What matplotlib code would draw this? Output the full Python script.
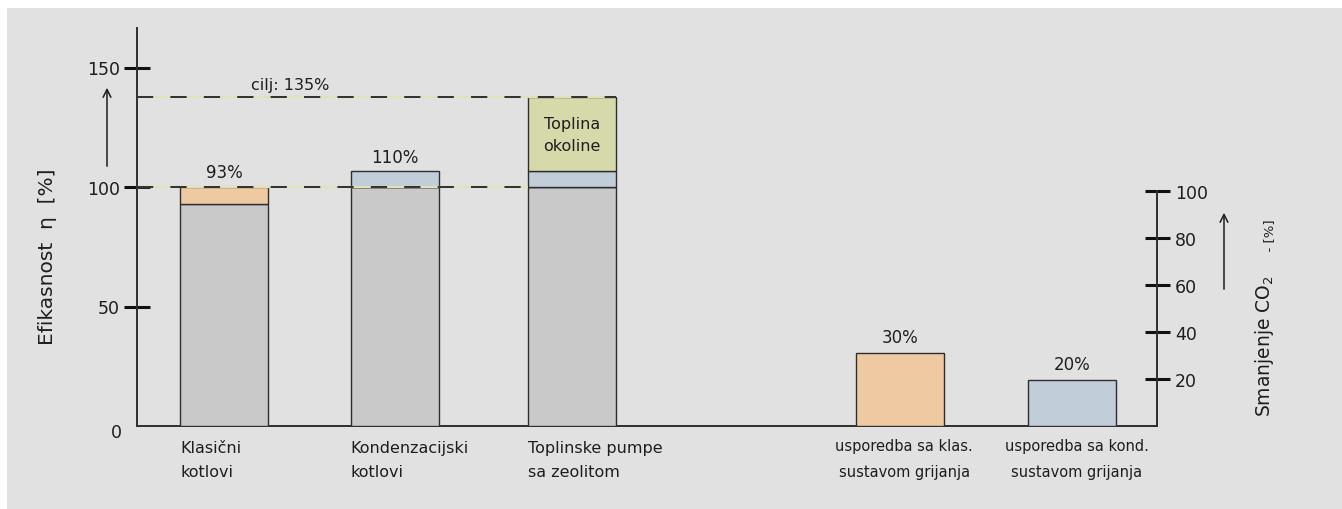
import matplotlib
matplotlib.use("Agg")
import matplotlib.pyplot as plt
from matplotlib.patches import Rectangle

# efficiency bars (left axis, %)
eff_categories = ["Klasični\nkotlovi", "Kondenzacijski\nkotlovi", "Toplinske pumpe\nsa zeolitom"]
eff_base = [93, 100, 100]
eff_loss = [7, 0, 0]
eff_condensing = [0, 6.5, 6.5]
eff_ambient = [0, 0, 31]
eff_labels = ["93%", "110%", ""]
target_value = 137.5
target_label = "cilj: 135%"
ambient_label = "Toplina\nokoline"

# CO2 reduction bars (right axis, %)
co2_categories = ["usporedba sa klas.\nsustavom grijanja", "usporedba sa kond.\nsustavom grijanja"]
co2_values = [31, 19.6]
co2_labels = ["30%", "20%"]

left_ticks = [50, 100, 150]
right_ticks = [20, 40, 60, 80, 100]

# colours
BG = "#e1e1e1"
GRAY = "#c9c9c9"
ORANGE = "#eec9a1"
BLUE = "#c1cdd9"
GREEN = "#d6daab"
EDGE = "#2e2e2e"
TXT = "#1e1e1e"

W, H = 1342, 510


def px(x, y):
    return x / W, 1 - y / H


fig = plt.figure(figsize=(W / 100, H / 100), dpi=100, facecolor="white")
fig.patches.append(Rectangle(px(7, 510), (W - 7) / W, (510 - 9) / H,
                             transform=fig.transFigure, facecolor=BG,
                             edgecolor="none", zorder=-10))

l, b = px(137, 427)
r, t = px(1157, 29)
ax = fig.add_axes([l, b, r - l, t - b])
ax.set_facecolor("none")
ax2 = ax.twinx()
ax2.set_facecolor("none")

bw = 1.0
eff_x = [0.99, 2.93, 4.94]
co2_x = [8.67, 10.63]
ax.set_xlim(0, 1020 / 88)
ax.set_ylim(0, 398 / 2.39)
ax2.set_ylim(0, 398 / 2.35)

kw = dict(width=bw, edgecolor=EDGE, linewidth=1.0, zorder=3)
ax.bar(eff_x, eff_base, color=GRAY, **kw)
b1 = [v for v in eff_base]
ax.bar(eff_x, eff_loss, bottom=b1, color=ORANGE, **kw)
b2 = [a + c for a, c in zip(b1, eff_loss)]
ax.bar([x for x, v in zip(eff_x, eff_condensing) if v],
       [v for v in eff_condensing if v],
       bottom=[bb for bb, v in zip(b2, eff_condensing) if v], color=BLUE, **kw)
b3 = [a + c for a, c in zip(b2, eff_condensing)]
ax.bar([x for x, v in zip(eff_x, eff_ambient) if v],
       [v for v in eff_ambient if v],
       bottom=[bb for bb, v in zip(b3, eff_ambient) if v], color=GREEN, **kw)
tops = [a + c for a, c in zip(b3, eff_ambient)]

for x, top, lab in zip(eff_x, tops, eff_labels):
    if lab:
        ax.annotate(lab, (x, top), xytext=(0, 4), textcoords="offset points",
                    ha="center", va="bottom", fontsize=12, color=TXT)

# ambient heat label inside the green segment
ax.text(eff_x[2], b3[2] + eff_ambient[2] / 2, ambient_label, ha="center",
        va="center", fontsize=11.5, color=TXT, linespacing=1.55, zorder=5)

# dashed reference lines
x100 = eff_x[2] - bw / 2
xt = eff_x[2] + bw / 2
for y, xe in [(100, x100), (target_value, xt)]:
    ax.plot([0, xe], [y, y], color="#dfe2b8", lw=1.6, zorder=4, solid_capstyle="butt")
    ax.plot([0, xe], [y, y], color="#222222", lw=1.3, zorder=4,
            dashes=(9, 9.5))
ax.annotate(target_label, (0, target_value), xytext=(82, 4),
            textcoords="offset points", ha="left", va="bottom",
            fontsize=11.5, color=TXT)

ax2.bar(co2_x, co2_values, color=[ORANGE, BLUE], **kw)
for x, v, lab in zip(co2_x, co2_values, co2_labels):
    ax2.annotate(lab, (x, v), xytext=(0, 5), textcoords="offset points",
                 ha="center", va="bottom", fontsize=12, color=TXT)

# category labels
for x, lab in zip(eff_x, eff_categories):
    ax.text(x - bw / 2, -0.034, lab, transform=ax.get_xaxis_transform(),
            ha="left", va="top", fontsize=11.5, color=TXT, linespacing=1.75)
for x, lab in zip(co2_x, co2_categories):
    ax.text(x + 0.05, -0.03, lab, transform=ax.get_xaxis_transform(),
            ha="center", va="top", fontsize=10.5, color=TXT, linespacing=1.9)

# spines and ticks
for a in (ax, ax2):
    a.spines["top"].set_visible(False)
    a.set_xticks([])
ax.spines["right"].set_visible(False)
ax2.spines["left"].set_visible(False)
ax2.spines["bottom"].set_visible(False)
for s in ("left", "bottom"):
    ax.spines[s].set_linewidth(1.4)
    ax.spines[s].set_color(EDGE)
ax2.spines["right"].set_linewidth(1.4)
ax2.spines["right"].set_color(EDGE)
ax2.spines["right"].set_bounds(0, 100)

ax.set_yticks(left_ticks)
ax.tick_params(axis="y", direction="inout", length=19, width=2.2,
               color="#111111", labelsize=12.5, labelcolor=TXT, pad=3)
ax2.set_yticks(right_ticks)
ax2.tick_params(axis="y", direction="inout", length=18, width=2.2,
                color="#111111", labelsize=12.5, labelcolor=TXT, pad=4)
fig.text(*px(116, 433), "0", ha="center", va="center", fontsize=12.5, color=TXT)

# axis titles and arrows
fig.text(*px(48, 257), "Efikasnost  η  [%]", rotation=90, ha="center",
         va="center", fontsize=14.5, color=TXT)
fig.text(*px(1264, 417), "Smanjenje CO$_2$", rotation=90, ha="center",
         va="bottom", fontsize=13.5, color=TXT)
fig.text(*px(1270, 260), "  - [%]", rotation=90, ha="center",
         va="bottom", fontsize=9.5, color=TXT)
fig.add_artist(plt.Annotation("", xy=px(107, 86), xytext=px(107, 170),
                              xycoords="figure fraction",
                              arrowprops=dict(arrowstyle="->", lw=1.1, color=TXT,
                                              mutation_scale=14)))
fig.add_artist(plt.Annotation("", xy=px(1224, 211), xytext=px(1224, 293),
                              xycoords="figure fraction",
                              arrowprops=dict(arrowstyle="->", lw=1.1, color=TXT,
                                              mutation_scale=14)))

fig.savefig("out.png", dpi=100, facecolor="white")
